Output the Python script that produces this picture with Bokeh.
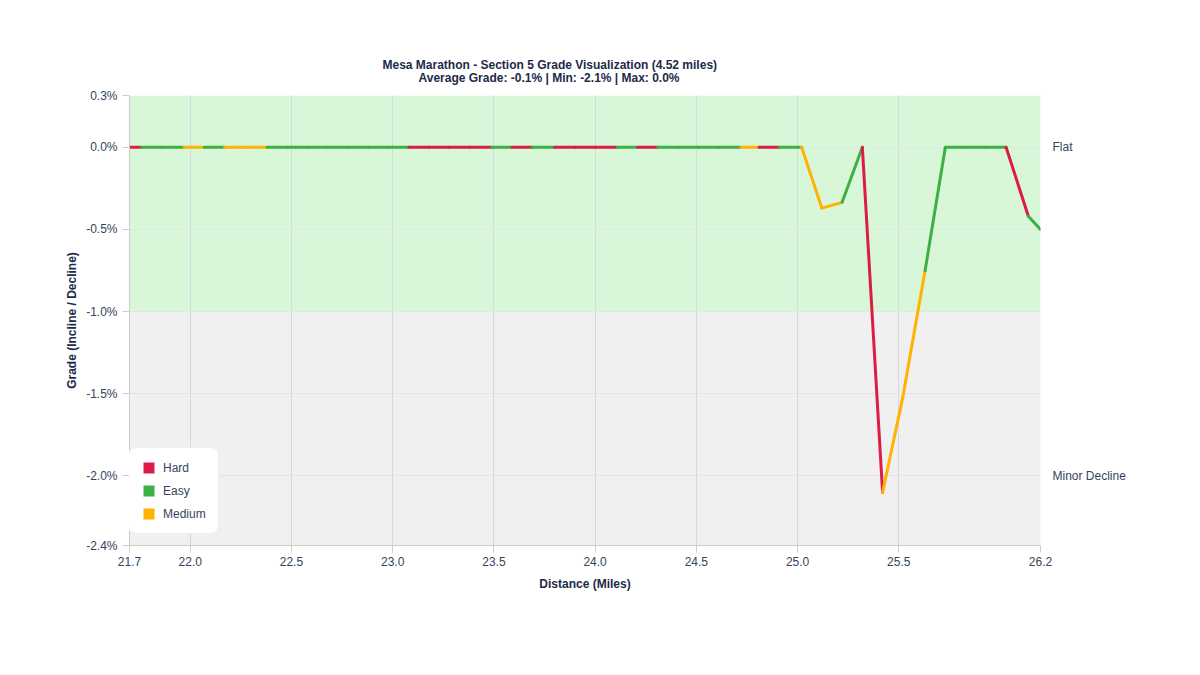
from bokeh.plotting import figure
from bokeh.models import (Range1d, FixedTicker, CustomJSTickFormatter, LinearAxis,
                          BoxAnnotation, Legend, LegendItem, Title, ColumnDataSource)
from bokeh.embed import file_html
from bokeh.resources import INLINE

# ---------------- data ----------------
distance = [21.70, 21.76, 21.86, 21.97, 22.07, 22.17, 22.27, 22.38, 22.48, 22.58,
            22.68, 22.78, 22.88, 22.98, 23.08, 23.18, 23.28, 23.38, 23.49, 23.59,
            23.69, 23.80, 23.90, 24.00, 24.11, 24.21, 24.31, 24.41, 24.51, 24.61,
            24.72, 24.81, 24.91, 25.02, 25.12, 25.22, 25.32, 25.42, 25.52, 25.63,
            25.73, 25.83, 25.93, 26.03, 26.14, 26.20]
grade = [0.0, 0.0, 0.0, 0.0, 0.0, 0.0, 0.0, 0.0, 0.0, 0.0,
         0.0, 0.0, 0.0, 0.0, 0.0, 0.0, 0.0, 0.0, 0.0, 0.0,
         0.0, 0.0, 0.0, 0.0, 0.0, 0.0, 0.0, 0.0, 0.0, 0.0,
         0.0, 0.0, 0.0, 0.0, -0.37, -0.335, 0.0, -2.1, -1.52, -0.75,
         0.0, 0.0, 0.0, 0.0, -0.42, -0.5]
# difficulty of each segment between consecutive points
difficulty = ["Hard", "Easy", "Easy", "Medium", "Easy", "Medium", "Medium",
              "Easy", "Easy", "Easy", "Easy", "Easy", "Easy", "Easy",
              "Hard", "Hard", "Hard", "Hard",
              "Easy", "Hard", "Easy", "Hard", "Hard", "Hard",
              "Easy", "Hard", "Easy", "Easy", "Easy", "Easy",
              "Medium", "Hard", "Easy", "Medium", "Medium", "Easy", "Hard",
              "Medium", "Medium", "Easy", "Easy", "Easy", "Easy", "Hard", "Easy"]
legend_order = ["Hard", "Easy", "Medium"]

x_ticks = [21.7, 22.0, 22.5, 23.0, 23.5, 24.0, 24.5, 25.0, 25.5, 26.2]
y_ticks = [-2.423, -2.0, -1.5, -1.0, -0.5, 0.0, 0.315]
x_min, x_max = 21.7, 26.2
y_min, y_max = -2.423, 0.315
zone_split = -1.0
zone_labels = {0.0: "Flat", -2.0: "Minor Decline"}

title_1 = "Mesa Marathon - Section 5 Grade Visualization (4.52 miles)"
title_2 = "Average Grade: -0.1% | Min: -2.1% | Max: 0.0%"

# ---------------- styles ----------------
FONT = "Liberation Sans"
colors = {"Hard": "#dc1c45", "Easy": "#3cb043", "Medium": "#ffb300"}
TICK_COLOR = "#34445e"
TITLE_COLOR = "#1b2b48"
NAN = float("nan")

p = figure(width=1184, height=650, output_backend="svg", toolbar_location=None,
           x_range=Range1d(x_min, x_max), y_range=Range1d(y_min, y_max),
           min_border_left=129, min_border_right=144, min_border_top=95,
           min_border_bottom=105, outline_line_color=None, background_fill_color="white")

# zones
p.add_layout(BoxAnnotation(bottom=zone_split, fill_color="#d8f7d8", fill_alpha=1.0,
                           line_color=None, level="image"))
p.add_layout(BoxAnnotation(top=zone_split, fill_color="#f0f0f0", fill_alpha=1.0,
                           line_color=None, level="image"))

# segments
seg = ColumnDataSource(dict(x0=distance[:-1], x1=distance[1:], y0=grade[:-1], y1=grade[1:],
                            color=[colors[d] for d in difficulty]))
p.segment(x0="x0", y0="y0", x1="x1", y1="y1", color="color", line_width=3,
          line_cap="round", source=seg)

# legend swatches (not drawn in the plot: NaN position)
items = []
for name in legend_order:
    r = p.quad(left=[NAN], right=[NAN], top=[NAN], bottom=[NAN], fill_color=colors[name],
               line_color="white", line_width=1)
    items.append(LegendItem(label=name, renderers=[r]))
legend = Legend(items=items, location=(-1, 11), padding=12, spacing=8,
                glyph_width=15, glyph_height=15, label_height=14, label_standoff=7,
                label_text_font=FONT, label_text_font_size="12px",
                label_text_color=TICK_COLOR, background_fill_color="white",
                background_fill_alpha=1.0, border_line_color="#dddddd",
                border_line_width=1, margin=0)
if "border_radius" in Legend.properties():
    legend.border_radius = 8
p.add_layout(legend, "center")

# axes
for ax in (p.xaxis[0], p.yaxis[0]):
    ax.axis_line_color = "#cccccc"
    ax.major_tick_line_color = "#cccccc"
    ax.major_tick_out = 7
    ax.major_tick_in = 0
    ax.minor_tick_line_color = None
    ax.major_label_text_font = FONT
    ax.major_label_text_font_size = "12px"
    ax.major_label_text_color = TICK_COLOR
    ax.axis_label_text_font = FONT
    ax.axis_label_text_font_size = "12px"
    ax.axis_label_text_font_style = "bold"
    ax.axis_label_text_color = TITLE_COLOR

p.xaxis.ticker = FixedTicker(ticks=x_ticks)
p.xaxis.formatter = CustomJSTickFormatter(code="return tick.toFixed(1);")
p.xaxis.axis_label = "Distance (Miles)"
p.xaxis.major_label_standoff = 4
p.xaxis.axis_label_standoff = 8

p.yaxis.ticker = FixedTicker(ticks=y_ticks)
p.yaxis.formatter = CustomJSTickFormatter(code="return tick.toFixed(1) + '%';")
p.yaxis.axis_label = "Grade (Incline / Decline)"
p.yaxis.major_label_standoff = 5
p.yaxis.axis_label_standoff = 4

p.xgrid.ticker = FixedTicker(ticks=x_ticks)
p.xgrid.grid_line_color = "#d6d6de"
p.ygrid.ticker = FixedTicker(ticks=y_ticks)
p.ygrid.grid_line_color = "#e4e4e4"

right = LinearAxis(ticker=FixedTicker(ticks=list(zone_labels.keys())),
                   formatter=CustomJSTickFormatter(
                       args=dict(names=[zone_labels[k] for k in zone_labels]),
                       code="return tick > -1 ? names[0] : names[1];"),
                   axis_line_color=None, major_tick_line_color=None,
                   major_tick_out=0, major_tick_in=0,
                   minor_tick_line_color=None, major_label_standoff=12,
                   major_label_text_font=FONT, major_label_text_font_size="12px",
                   major_label_text_color=TICK_COLOR)
p.add_layout(right, "right")

# titles (first added sits closest to the plot)
p.title = None
t2 = Title(text=title_2, align="left", offset=289, standoff=22, text_font=FONT,
           text_font_size="12px", text_font_style="bold", text_color=TITLE_COLOR)
t1 = Title(text=title_1, align="left", offset=253, standoff=-28, text_font=FONT,
           text_font_size="12px", text_font_style="bold", text_color=TITLE_COLOR)
p.add_layout(t2, "above")
p.add_layout(t1, "above")

open("out.html", "w").write(file_html(p, INLINE))
